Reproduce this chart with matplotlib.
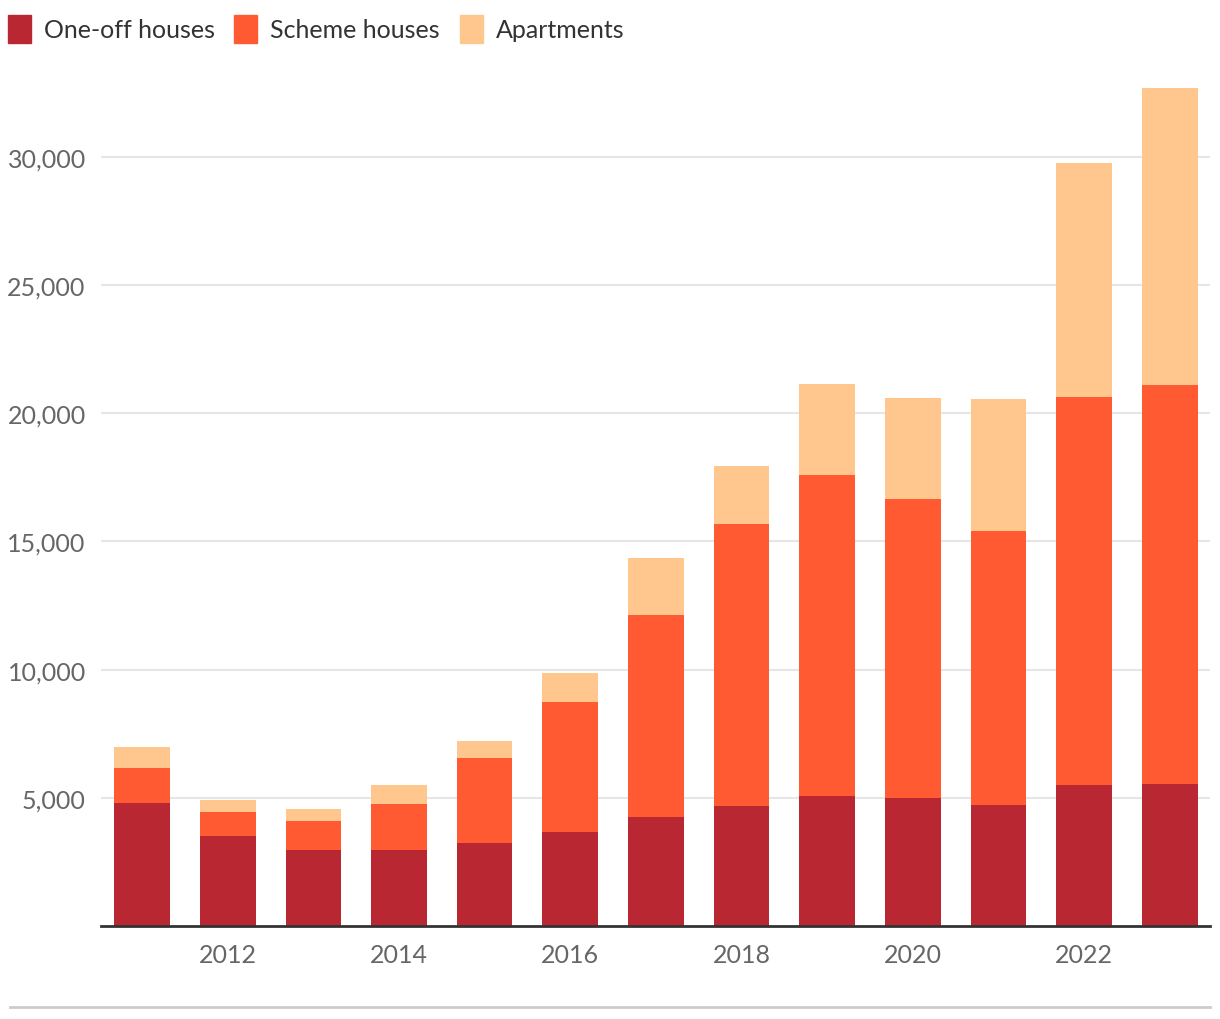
import numpy as np
import matplotlib
matplotlib.use("Agg")
import matplotlib.pyplot as plt
from matplotlib.patches import Rectangle

plt.rcParams['font.family'] = ['Lato', 'DejaVu Sans']

years = [2011, 2012, 2013, 2014, 2015, 2016, 2017, 2018, 2019, 2020, 2021, 2022, 2023]
one_off = [4800, 3510, 2970, 2970, 3240, 3670, 4250, 4680, 5070, 4990, 4720, 5500, 5540]
scheme = [1360, 940, 1130, 1790, 3310, 5070, 7880, 11000, 12530, 11670, 10690, 15140, 15570]
apartments = [820, 470, 470, 740, 670, 1130, 2230, 2270, 3550, 3940, 5150, 9130, 11590]

series_names = ['One-off houses', 'Scheme houses', 'Apartments']
series_colors = ['#b92732', '#ff5a31', '#ffc78e']

fig = plt.figure(figsize=(12.2, 10.2), dpi=100)
ax = fig.add_axes([101/1220, 1 - 927/1020, (1210-101)/1220, (927-81)/1020])

x = np.array(years)
bottom = np.zeros(len(years))
for vals, c in zip([one_off, scheme, apartments], series_colors):
    ax.bar(x, vals, width=0.65, bottom=bottom, color=c, zorder=2)
    bottom += np.array(vals)

ax.set_xlim(2011 - 0.48, 2023 + 0.47)
ax.set_ylim(0, 33000)
ax.set_yticks([5000, 10000, 15000, 20000, 25000, 30000])
ax.set_yticklabels(['{:,}'.format(v) for v in [5000, 10000, 15000, 20000, 25000, 30000]])
ax.set_xticks([2012, 2014, 2016, 2018, 2020, 2022])
ax.grid(axis='y', color='#e6e6e6', linewidth=1.5, zorder=0)
for s in ['top', 'right', 'left']:
    ax.spines[s].set_visible(False)
ax.spines['bottom'].set_color('#333333')
ax.spines['bottom'].set_linewidth(2)
ax.spines['bottom'].set_zorder(3)
ax.tick_params(axis='both', length=0, labelsize=18, labelcolor='#666666')
ax.tick_params(axis='y', pad=11)
ax.tick_params(axis='x', pad=12)

# legend at top
leg_x = [8, 234, 460]
for lx, name, c in zip(leg_x, series_names, series_colors):
    fig.patches.append(Rectangle((lx/1220, 1 - 44/1020), 23/1220, 28/1020,
                                 transform=fig.transFigure, color=c))
    fig.text((lx + 36)/1220, 1 - 31/1020, name, fontsize=18, color='#333333',
             va='center', ha='left')

# bottom rule
fig.add_artist(plt.Line2D([10/1220, 1210/1220], [1 - 1008/1020, 1 - 1008/1020],
                          transform=fig.transFigure, color='#cccccc', linewidth=2))

fig.savefig('out.png', dpi=100)
